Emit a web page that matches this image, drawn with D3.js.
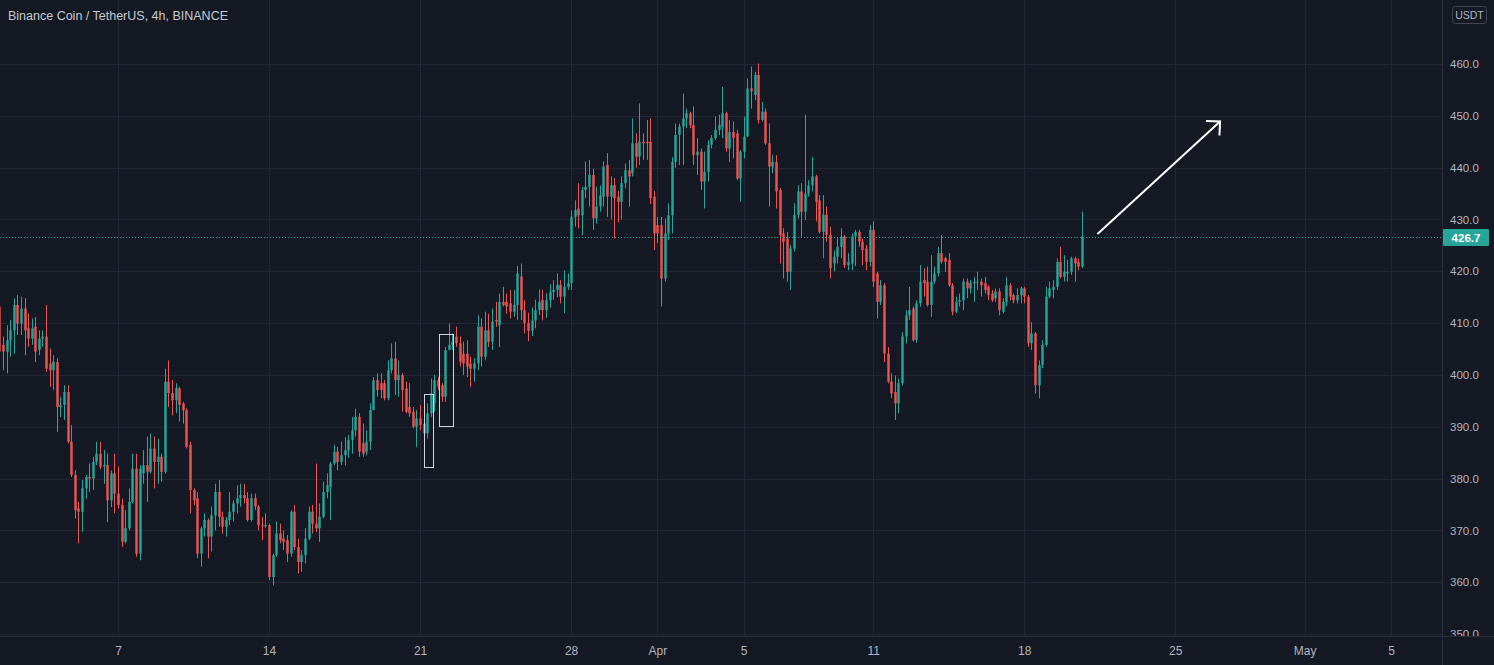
<!DOCTYPE html>
<html><head><meta charset="utf-8">
<script src="https://cdn.jsdelivr.net/npm/d3@7/dist/d3.min.js"></script>
<style>html,body{margin:0;padding:0;background:#151924;overflow:hidden}</style>
</head><body><svg id="c" width="1494" height="665"></svg>
<script>
const title = "Binance Coin / TetherUS, 4h, BINANCE";
const currency = "USDT";
const startTime = "2021-03-01T12:00";
const lastPrice = 426.7;

const opens = [
413.2,405.8,404.5,406.7,408.6,413.5,409.9,412.8,409.0,407.0,
409.3,404.8,407.0,407.4,402.2,400.9,402.5,393.8,394.2,396.7,
387.1,380.7,374.2,373.6,378.1,380.3,380.0,383.2,384.8,382.3,
382.6,375.8,381.0,377.1,374.9,367.8,370.4,375.5,381.9,365.5,
381.0,382.6,381.3,385.8,383.2,384.2,381.3,398.7,396.5,395.1,
397.4,394.5,393.2,386.5,377.8,376.2,365.5,370.4,372.0,368.8,
372.9,377.4,372.6,370.7,372.0,373.6,375.2,376.2,376.8,376.2,
372.0,376.2,374.6,371.0,370.8,371.0,361.0,365.2,369.4,368.4,
368.1,365.5,373.6,366.8,363.9,365.2,368.4,373.6,371.3,370.4,
372.6,377.4,378.4,382.9,385.2,383.2,384.5,385.5,387.4,389.3,
391.9,386.8,385.2,387.1,393.2,399.0,398.4,398.4,395.5,400.9,
403.2,399.0,400.0,397.4,393.8,392.9,390.0,391.6,390.6,388.7,
392.6,394.5,399.0,398.0,395.8,404.8,405.8,407.4,406.1,404.1,
404.1,402.2,401.2,402.2,409.3,403.5,408.6,406.4,410.6,409.6,
414.1,414.1,413.8,412.2,413.5,419.0,412.5,410.0,408.5,410.5,
412.5,414.5,412.5,414.4,416.0,416.4,417.4,415.1,417.0,417.7,
430.5,432.1,430.8,435.7,436.3,438.6,430.2,432.5,434.4,440.5,
434.4,436.6,434.4,433.4,437.0,439.5,438.9,444.7,442.1,445.0,
445.0,445.0,434.4,428.9,428.9,418.6,427.3,430.8,441.1,446.3,
447.9,449.5,450.5,448.2,442.4,443.1,437.3,439.2,444.4,445.7,
447.3,447.9,450.5,443.7,446.9,446.6,437.9,443.1,446.0,455.3,
454.0,457.9,449.2,450.8,444.7,440.2,441.1,435.7,427.3,426.3,
419.9,424.4,430.9,435.4,431.5,435.0,436.6,438.3,433.7,427.6,
430.9,427.0,421.5,422.8,424.7,426.7,421.2,421.5,426.7,427.6,
425.7,424.4,421.8,428.0,419.6,414.1,417.3,404.1,398.7,396.7,
394.5,398.4,407.4,411.5,412.8,406.7,413.8,418.3,418.0,413.5,
418.0,419.6,423.5,422.5,422.2,417.3,412.2,414.1,414.4,418.0,
416.7,417.7,417.9,418.0,417.7,417.0,415.7,414.8,416.1,412.2,
414.1,417.3,415.4,414.4,415.4,416.7,415.1,406.1,408.0,398.0,
401.9,405.8,415.1,416.4,417.0,421.8,418.9,419.6,419.9,422.5,
421.8,420.9];

const highs = [
425.5,407.4,409.6,410.6,414.8,415.4,415.1,414.8,411.9,410.9,
411.2,408.6,408.6,413.5,405.1,403.8,403.2,395.8,398.0,398.0,
390.3,381.6,375.5,379.7,380.7,382.9,384.2,387.1,387.1,385.5,
384.8,381.6,384.8,382.3,376.1,373.9,378.1,384.8,384.8,382.6,
385.5,388.1,388.7,388.1,387.7,384.8,401.2,402.8,399.0,398.4,
397.7,394.8,393.5,387.1,378.1,377.4,370.7,373.3,372.3,374.6,
379.0,379.7,373.6,372.6,377.4,375.8,378.7,379.0,379.0,377.4,
377.1,377.1,374.9,372.6,373.3,371.3,365.5,371.7,371.3,370.0,
369.1,373.9,374.9,368.4,366.2,370.4,374.6,374.9,382.9,375.2,
379.4,381.0,383.2,386.5,386.1,387.1,388.0,388.4,391.9,393.5,
392.6,390.6,389.3,394.5,399.6,400.3,400.3,399.0,402.8,406.1,
406.4,402.8,400.3,398.7,398.4,393.8,393.2,394.2,392.6,394.5,
399.3,400.0,399.6,398.4,405.4,409.9,408.0,409.3,407.4,406.4,
406.7,403.5,403.2,411.5,410.9,412.2,411.8,412.8,414.1,415.7,
417.0,415.7,416.4,416.4,421.0,421.5,414.4,412.0,413.0,414.5,
416.5,416.4,415.7,417.5,418.3,419.6,418.3,420.2,419.6,431.8,
433.7,437.0,436.3,441.2,441.5,439.8,436.3,436.6,441.2,442.8,
438.3,438.0,435.5,438.3,440.8,441.5,449.5,446.6,452.4,446.6,
449.2,449.5,435.5,430.5,430.5,430.2,433.1,442.0,448.5,448.5,
454.3,451.4,450.8,451.8,445.7,443.7,443.1,445.3,446.3,449.9,
450.2,455.6,450.8,449.2,448.9,447.3,443.4,449.8,457.2,459.5,
458.5,460.1,452.7,451.4,448.5,442.4,442.4,436.0,428.3,427.6,
425.1,433.1,436.6,437.0,450.2,437.6,442.1,438.6,434.7,434.7,
432.5,428.6,424.0,426.5,428.3,427.0,423.5,427.3,428.0,428.0,
426.3,425.1,428.9,429.6,419.9,418.3,417.7,405.4,400.3,399.9,
399.3,408.3,412.5,417.0,413.2,414.4,421.2,420.6,420.9,423.1,
420.9,424.7,427.0,422.8,423.5,417.7,415.1,415.7,418.6,418.6,
418.3,418.9,419.9,418.6,418.9,417.3,416.4,416.7,416.7,414.8,
418.9,417.7,415.7,416.7,417.0,417.0,415.4,410.2,408.3,402.8,
406.7,417.0,418.0,418.3,422.5,424.7,423.1,422.2,422.8,422.8,
422.5,431.5];

const lows = [
402.0,400.9,400.3,403.5,404.1,407.7,407.7,403.8,405.4,405.8,
402.5,403.8,405.4,400.6,397.7,397.1,389.0,391.9,391.3,386.8,
380.3,372.3,367.5,369.7,376.1,377.4,377.8,382.6,381.8,379.0,
371.6,374.5,373.3,374.2,366.8,367.5,370.0,375.2,364.9,364.2,
379.0,375.5,381.0,378.1,379.0,379.4,381.0,393.8,392.2,392.6,
391.0,390.6,385.8,373.3,374.9,364.6,363.0,368.8,364.6,365.9,
370.0,370.7,369.4,368.8,371.0,371.7,373.3,374.6,375.2,371.7,
371.7,373.9,370.0,368.1,370.5,360.4,359.4,364.9,367.5,366.2,
363.9,364.9,366.2,361.7,362.0,363.6,368.1,369.4,369.7,367.8,
372.3,376.2,372.0,382.6,381.6,382.6,382.5,384.0,384.8,388.1,
384.2,384.2,384.5,385.5,393.2,395.8,395.5,395.1,395.1,400.3,
396.1,395.8,392.9,392.6,391.9,389.7,386.1,389.3,387.4,387.7,
391.9,392.9,397.1,394.8,394.8,404.8,404.8,405.4,401.6,400.0,
399.6,397.7,398.7,400.9,401.6,402.8,405.4,404.8,409.3,405.4,
413.2,411.8,410.9,411.2,410.6,410.6,408.0,406.5,407.5,409.0,
411.5,410.5,411.0,413.0,414.5,415.0,413.8,411.9,416.4,416.4,
428.6,428.3,427.0,434.1,432.5,428.0,429.2,431.5,432.5,430.5,
430.0,426.3,429.5,430.0,436.0,432.5,438.3,440.0,440.5,441.5,
441.5,433.0,424.1,425.4,413.2,418.0,426.0,427.3,440.0,440.5,
440.5,447.6,447.6,440.5,438.6,435.7,432.1,437.3,443.7,445.3,
446.3,445.7,443.1,441.1,441.8,437.6,433.4,441.8,446.0,451.4,
453.0,448.5,448.9,444.4,432.5,438.9,432.1,421.5,418.6,418.0,
416.4,423.8,430.2,426.7,429.9,434.4,435.4,429.6,427.3,422.5,
425.7,418.6,420.0,421.5,422.5,420.6,420.2,420.2,421.0,424.7,
421.2,420.2,420.9,417.0,410.9,413.5,402.5,398.4,395.5,391.3,
392.6,398.0,406.1,410.6,406.4,406.2,413.2,415.1,413.2,411.2,
417.6,419.0,421.5,419.9,417.0,411.5,411.9,413.2,412.5,414.8,
415.7,414.1,416.4,415.1,415.7,414.4,414.1,414.1,411.5,411.9,
413.2,414.4,413.8,413.8,413.8,413.8,405.4,404.8,396.4,395.5,
401.3,405.4,414.8,414.8,416.4,418.6,418.0,418.0,419.3,418.0,
420.2,420.6];

const closes = [
404.5,404.5,406.7,408.6,413.5,409.9,412.8,408.6,407.0,409.0,
404.5,407.0,407.4,401.2,400.9,402.5,393.8,394.2,396.7,387.1,
380.7,373.9,373.6,378.1,380.3,380.0,383.2,384.8,382.3,382.6,
375.8,381.0,377.1,374.9,367.8,370.4,375.5,381.9,365.5,381.9,
382.6,381.3,385.8,383.2,384.2,381.3,398.7,396.5,395.1,397.5,
394.2,393.2,386.1,377.8,375.8,365.5,370.4,372.0,368.8,372.9,
377.4,372.6,370.7,372.0,373.6,375.2,376.2,376.8,376.2,372.0,
376.2,374.6,371.0,370.8,371.0,361.0,365.2,369.4,368.1,367.8,
365.5,373.6,366.8,363.9,365.2,368.4,373.6,371.3,370.4,372.6,
377.4,378.7,382.9,385.2,383.2,384.5,385.5,387.4,389.3,391.9,
385.2,384.8,387.1,393.2,399.0,397.1,397.1,395.5,400.9,403.2,
399.0,400.0,397.1,392.9,392.6,390.0,391.6,390.3,388.7,392.6,
396.4,399.0,397.7,395.8,404.8,405.8,406.4,406.1,402.5,402.2,
401.6,401.2,402.2,409.3,403.5,408.6,406.4,410.3,410.3,414.1,
413.5,413.2,412.2,413.5,419.6,412.5,410.0,408.5,410.5,412.5,
414.1,412.5,414.4,416.0,416.4,417.4,415.1,417.0,417.7,430.5,
431.8,430.8,435.7,436.3,438.6,430.2,432.5,434.7,440.2,434.4,
436.6,434.1,433.4,437.0,439.5,438.3,444.7,442.1,445.0,444.7,
444.7,434.1,427.3,427.3,418.6,427.3,430.8,441.1,446.3,447.9,
449.5,450.5,448.2,442.4,443.1,437.3,439.2,444.4,445.7,447.3,
448.2,450.5,443.7,446.9,445.7,437.9,443.1,446.0,455.3,454.7,
457.9,449.2,450.8,444.7,440.2,441.1,435.4,427.0,425.7,419.9,
424.4,430.9,435.4,431.5,435.0,436.6,438.3,433.4,427.6,430.9,
427.0,420.6,422.8,424.7,426.7,421.2,421.8,426.7,427.6,425.7,
424.1,421.8,428.0,418.0,414.1,417.3,404.1,398.7,396.4,394.5,
398.4,407.4,411.5,412.5,406.7,413.8,418.0,417.7,413.5,418.0,
419.6,423.5,421.8,421.8,417.3,412.2,414.1,414.4,418.0,416.7,
417.7,418.0,418.0,417.3,416.4,415.4,414.4,416.1,412.5,414.1,
417.3,415.1,414.4,415.4,416.7,415.1,406.1,408.0,398.0,401.9,
405.8,415.1,416.7,417.0,421.8,418.9,419.9,419.9,422.5,421.5,
420.9,426.7];

const xTickDates = ["2021-03-07T00:00","2021-03-14T00:00","2021-03-21T00:00","2021-03-28T00:00","2021-04-01T00:00","2021-04-05T00:00","2021-04-11T00:00","2021-04-18T00:00","2021-04-25T00:00","2021-05-01T00:00","2021-05-05T00:00"];
const xTickLabels = ["7","14","21","28","Apr","5","11","18","25","May","5"];
const yTickValues = [350,360,370,380,390,400,410,420,430,440,450,460];

// drawings (data coordinates)
const boxTimes = [["2021-03-21T04:20","2021-03-21T14:20"],["2021-03-21T21:15","2021-03-22T13:20"]];
const boxPrices = [[382.3,396.4],[390.0,407.8]];
const arrowTimes = ["2021-04-21T10:05","2021-04-27T01:50"];
const arrowPrices = [427.3,448.9];

const W = 1494, H = 665, plotRight = 1442, plotBottom = 636;
const bg = "#151924", grid = "#232733", textCol = "#b2b5be";
const upCol = "#26a69a", downCol = "#ef5350";

const parse = d3.utcParse("%Y-%m-%dT%H:%M");
const t0 = parse(startTime);
const data = closes.map((c, i) => ({
  t: d3.utcHour.offset(t0, 4 * i),
  o: opens[i], c: c,
  h: Math.max(highs[i], opens[i], c),
  l: Math.min(lows[i], opens[i], c)
}));

const x = d3.scaleUtc().domain([parse("2021-03-07T00:00"), parse("2021-05-05T00:00")]).range([118, 1391]);
const y = d3.scaleLinear().domain([350, 460]).range([634, 64]);

const svg = d3.select("#c");
svg.append("rect").attr("width", W).attr("height", H).attr("fill", bg);
const defs = svg.append("defs");
defs.append("clipPath").attr("id", "plot").append("rect").attr("x", 0).attr("y", 0).attr("width", plotRight).attr("height", plotBottom);
defs.append("clipPath").attr("id", "yax").append("rect").attr("x", plotRight).attr("y", 0).attr("width", W - plotRight).attr("height", plotBottom);

// grid
const gGrid = svg.append("g").attr("clip-path", "url(#plot)");
gGrid.selectAll("line.h").data(yTickValues).join("line")
  .attr("x1", 0).attr("x2", plotRight)
  .attr("y1", d => Math.round(y(d)) + 0.5).attr("y2", d => Math.round(y(d)) + 0.5)
  .attr("stroke", grid).attr("stroke-width", 1);
gGrid.selectAll("line.v").data(xTickDates.map(parse)).join("line")
  .attr("x1", d => Math.round(x(d)) + 0.5).attr("x2", d => Math.round(x(d)) + 0.5)
  .attr("y1", 0).attr("y2", plotBottom)
  .attr("stroke", grid).attr("stroke-width", 1);

// candles
const step = x(d3.utcHour.offset(t0, 4)) - x(t0);
const bw = Math.max(1, step * 0.68);
const gC = svg.append("g").attr("clip-path", "url(#plot)");
const cand = gC.selectAll("g.c").data(data).join("g");
cand.append("line")
  .attr("x1", d => Math.round(x(d.t)) + 0.5).attr("x2", d => Math.round(x(d.t)) + 0.5)
  .attr("y1", d => y(d.h)).attr("y2", d => y(d.l))
  .attr("stroke", d => d.c >= d.o ? upCol : downCol).attr("stroke-width", 1);
cand.append("rect")
  .attr("x", d => Math.round(x(d.t)) + 0.5 - bw / 2)
  .attr("width", bw)
  .attr("y", d => y(Math.max(d.o, d.c)))
  .attr("height", d => Math.max(1, Math.abs(y(d.o) - y(d.c))))
  .attr("fill", d => d.c >= d.o ? upCol : downCol);

// last price dotted line
svg.append("line").attr("clip-path", "url(#plot)")
  .attr("x1", 0).attr("x2", plotRight)
  .attr("y1", Math.round(y(lastPrice)) + 0.5).attr("y2", Math.round(y(lastPrice)) + 0.5)
  .attr("stroke", upCol).attr("stroke-width", 1).attr("stroke-dasharray", "1,2");

// drawings: boxes
const gD = svg.append("g").attr("clip-path", "url(#plot)");
boxTimes.forEach((bt, i) => {
  const xa = x(parse(bt[0])), xb = x(parse(bt[1]));
  const ya = y(boxPrices[i][1]), yb = y(boxPrices[i][0]);
  gD.append("rect").attr("x", Math.round(xa) + 0.5).attr("y", Math.round(ya) + 0.5)
    .attr("width", Math.round(xb - xa)).attr("height", Math.round(yb - ya))
    .attr("fill", "none").attr("stroke", "#d1d4dc").attr("stroke-width", 1);
});
// arrow
const ax0 = x(parse(arrowTimes[0])), ay0 = y(arrowPrices[0]);
const ax1 = x(parse(arrowTimes[1])), ay1 = y(arrowPrices[1]);
gD.append("line").attr("x1", ax0).attr("y1", ay0).attr("x2", ax1).attr("y2", ay1)
  .attr("stroke", "#ffffff").attr("stroke-width", 2).attr("stroke-linecap", "round");
const ang = Math.atan2(ay0 - ay1, ax0 - ax1), al = 14;
const p1 = [ax1 + al * Math.cos(ang + Math.PI / 4), ay1 + al * Math.sin(ang + Math.PI / 4)];
const p2 = [ax1 + al * Math.cos(ang - Math.PI / 4), ay1 + al * Math.sin(ang - Math.PI / 4)];
gD.append("path").attr("d", `M${p1[0]},${p1[1]}L${ax1},${ay1}L${p2[0]},${p2[1]}`)
  .attr("fill", "none").attr("stroke", "#ffffff").attr("stroke-width", 2).attr("stroke-linejoin", "miter");

// axis borders
svg.append("line").attr("x1", plotRight + 0.5).attr("x2", plotRight + 0.5).attr("y1", 0).attr("y2", H).attr("stroke", "#2a2e39");
svg.append("line").attr("x1", 0).attr("x2", W).attr("y1", plotBottom + 0.5).attr("y2", plotBottom + 0.5).attr("stroke", "#2a2e39");

// y axis
const yAx = svg.append("g").attr("clip-path", "url(#yax)").append("g")
  .attr("transform", `translate(${plotRight},0)`)
  .call(d3.axisRight(y).tickValues(yTickValues).tickFormat(d3.format(".1f")).tickSize(0).tickPadding(8));
yAx.select(".domain").remove();
yAx.selectAll("text").attr("fill", textCol).style("font-family", "'Liberation Sans', Arial, sans-serif").style("font-size", "11.5px");

// x axis
const xAx = svg.append("g").attr("transform", `translate(0,${plotBottom})`)
  .call(d3.axisBottom(x).tickValues(xTickDates.map(parse)).tickFormat((d, i) => xTickLabels[i]).tickSize(0).tickPadding(10));
xAx.select(".domain").remove();
xAx.selectAll("text").attr("fill", textCol).style("font-family", "'Liberation Sans', Arial, sans-serif").style("font-size", "12px");

// currency box
svg.append("rect").attr("x", 1452.5).attr("y", 6.5).attr("width", 34).attr("height", 17).attr("rx", 3)
  .attr("fill", bg).attr("stroke", "#434651");
svg.append("text").attr("x", 1469.5).attr("y", 15).attr("text-anchor", "middle").attr("dominant-baseline", "central")
  .attr("fill", textCol).style("font-family", "'Liberation Sans', Arial, sans-serif").style("font-size", "10.5px").text(currency);

// last price label
svg.append("rect").attr("x", plotRight + 1).attr("y", Math.round(y(lastPrice)) - 8).attr("width", 46).attr("height", 17)
  .attr("fill", upCol).attr("rx", 1);
svg.append("text").attr("x", plotRight + 24).attr("y", Math.round(y(lastPrice)) + 0.5).attr("text-anchor", "middle")
  .attr("dominant-baseline", "central").attr("fill", "#ffffff")
  .style("font-family", "'Liberation Sans', Arial, sans-serif").style("font-size", "11.5px").style("font-weight", "bold")
  .text(d3.format(".1f")(lastPrice));

// title
svg.append("text").attr("x", 8).attr("y", 20).attr("fill", "#c6c9d1")
  .style("font-family", "'Liberation Sans', Arial, sans-serif").style("font-size", "12.5px").text(title);
</script>
</body></html>
